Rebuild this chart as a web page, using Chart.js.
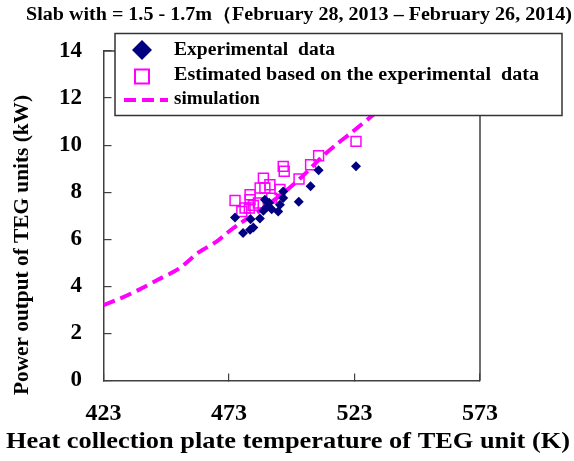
<!DOCTYPE html>
<html>
<head>
<meta charset="utf-8">
<script src="https://cdn.jsdelivr.net/npm/chart.js@4"></script>
<style>
  body { margin: 0; background: #fff; }
  #wrap { width: 574px; height: 461px; }
</style>
</head>
<body>
<div id="wrap"><canvas id="myChart" width="574" height="461"></canvas></div>
<script>
const canvas = document.getElementById('myChart');

// Tocke ocitane sa slike
const expTemp = [475.4, 478.6, 481.4, 481.6, 482.7, 485.3, 486.7, 487.3, 488.0, 489.0, 490.0, 492.6, 493.3, 494.6, 494.6, 500.8, 505.5, 508.7, 523.6];
const expPower = [6.93, 6.27, 6.40, 6.85, 6.50, 6.88, 7.21, 7.68, 7.36, 7.55, 7.28, 7.18, 7.47, 7.75, 8.03, 7.60, 8.25, 8.93, 9.10];
const estTemp = [475.4, 478.1, 479.4, 481.1, 481.4, 481.4, 482.7, 484.7, 485.4, 486.7, 487.3, 489.3, 490.0, 493.3, 494.6, 495.0, 500.9, 505.5, 508.7, 523.6];
const estPower = [7.65, 7.18, 7.33, 7.33, 7.68, 7.89, 7.44, 7.54, 8.18, 8.60, 8.18, 8.32, 7.75, 8.12, 9.10, 8.89, 8.56, 9.17, 9.55, 10.16];
const simTemp = [423, 430, 437, 445, 453, 461, 468, 472, 477, 485, 495, 502, 510, 516, 522, 530, 540, 552];
const simPower = [3.2, 3.5, 3.85, 4.3, 4.75, 5.45, 5.9, 6.25, 6.65, 7.2, 8.0, 8.65, 9.5, 10.05, 10.55, 11.25, 12.1, 13.0];
const xTicks = [423, 473, 523, 573];
const yTicks = [0, 2, 4, 6, 8, 10, 12, 14];

const titleText = 'Slab with = 1.5 - 1.7m（February 28, 2013 – February 26, 2014)';
const yTitle = 'Power output of TEG units (kW)';
const xTitle = 'Heat collection plate temperature of TEG unit (K)';
const legendLabels = ['Experimental  data', 'Estimated based on the experimental  data', 'simulation'];

const serif = '"Liberation Serif", "Times New Roman", serif';
const navy = '#000080';
const pink = '#ff00ff';
const axisColor = '#404040';

function toXY(xs, ys) {
    return xs.map((x, i) => ({ x: x, y: ys[i] }));
}

// tekst je na slici razvucen po sirini, pa ga razvlacimo do zadate sirine
function wideText(ctx, text, x, y, width, align) {
    const sx = width / ctx.measureText(text).width;
    ctx.save();
    ctx.translate(x, y);
    ctx.scale(sx, 1);
    ctx.textAlign = align;
    ctx.fillText(text, 0, 0);
    ctx.restore();
}

// Okvir, naslovi, legenda
const extras = {
    id: 'extras',
    beforeDatasetsDraw(chart) {
        const { ctx, chartArea: a } = chart;
        ctx.save();
        ctx.strokeStyle = axisColor;
        ctx.lineWidth = 1.5;
        ctx.beginPath();
        ctx.moveTo(a.left, a.top);
        ctx.lineTo(a.right, a.top);
        ctx.lineTo(a.right, a.bottom);
        ctx.stroke();
        ctx.restore();
    },
    afterDraw(chart) {
        const { ctx } = chart;
        ctx.save();
        ctx.fillStyle = '#000';
        ctx.textBaseline = 'middle';

        // naslov
        ctx.font = 'bold 18px ' + serif;
        wideText(ctx, titleText, 299, 15, 546, 'center');

        // naslov x ose
        ctx.font = 'bold 24px ' + serif;
        wideText(ctx, xTitle, 288, 442, 564, 'center');

        // naslov y ose
        ctx.save();
        ctx.translate(22, 245);
        ctx.rotate(-Math.PI / 2);
        ctx.font = 'bold 22px ' + serif;
        wideText(ctx, yTitle, 0, 0, 300, 'center');
        ctx.restore();

        // legenda
        ctx.fillStyle = '#fff';
        ctx.fillRect(115, 33.5, 447, 82);
        ctx.strokeStyle = '#333';
        ctx.lineWidth = 1.5;
        ctx.strokeRect(115, 33.5, 447, 82);

        ctx.fillStyle = navy;
        ctx.beginPath();
        ctx.moveTo(142, 40);
        ctx.lineTo(152, 50);
        ctx.lineTo(142, 60);
        ctx.lineTo(132, 50);
        ctx.closePath();
        ctx.fill();

        ctx.strokeStyle = pink;
        ctx.lineWidth = 2;
        ctx.strokeRect(135, 69.5, 14, 14);

        ctx.lineWidth = 4;
        ctx.setLineDash([12, 6]);
        ctx.beginPath();
        ctx.moveTo(124, 100);
        ctx.lineTo(168, 100);
        ctx.stroke();
        ctx.setLineDash([]);

        ctx.fillStyle = '#000';
        ctx.font = 'bold 18px ' + serif;
        wideText(ctx, legendLabels[0], 174, 50, 161, 'left');
        wideText(ctx, legendLabels[1], 174, 75, 365, 'left');
        wideText(ctx, legendLabels[2], 174, 99, 86, 'left');
        ctx.restore();
    }
};

const myChart = new Chart(canvas, {
    type: 'scatter',
    data: {
        datasets: [{
            label: legendLabels[0],
            data: toXY(expTemp, expPower),
            pointStyle: 'rectRot',
            pointRadius: 5,
            backgroundColor: navy,
            borderColor: navy,
            borderWidth: 0
        }, {
            label: legendLabels[2],
            data: toXY(simTemp, simPower),
            showLine: true,
            tension: 0.3,
            pointRadius: 0,
            borderColor: pink,
            borderWidth: 4,
            borderDash: [12, 6]
        }, {
            label: legendLabels[1],
            data: toXY(estTemp, estPower),
            pointStyle: 'rect',
            pointRadius: 7,
            backgroundColor: 'rgba(0,0,0,0)',
            borderColor: pink,
            borderWidth: 1.5
        }]
    },
    options: {
        responsive: false,
        animation: false,
        layout: { padding: { top: 51, right: 94, left: 0, bottom: 0 } },
        plugins: {
            legend: { display: false },
            tooltip: { enabled: false }
        },
        scales: {
            x: {
                type: 'linear',
                min: 423,
                max: 573,
                afterBuildTicks: (s) => { s.ticks = xTicks.map(v => ({ value: v })); },
                afterFit: (s) => { s.height = 80.5; },
                border: { color: axisColor, width: 1.5 },
                grid: { drawOnChartArea: false, tickLength: -7, color: axisColor, lineWidth: 1.2 },
                ticks: { padding: 26, color: '#000', font: { family: serif, size: 24, weight: 'bold' } }
            },
            y: {
                min: 0,
                max: 14,
                afterBuildTicks: (s) => { s.ticks = yTicks.map(v => ({ value: v })); },
                afterFit: (s) => { s.width = 103.5; },
                border: { color: axisColor, width: 1.5 },
                grid: { drawOnChartArea: false, tickLength: -8, color: axisColor, lineWidth: 1.2 },
                ticks: { padding: 29.5, color: '#000', font: { family: serif, size: 23, weight: 'bold' } }
            }
        }
    },
    plugins: [extras]
});
</script>
</body>
</html>
